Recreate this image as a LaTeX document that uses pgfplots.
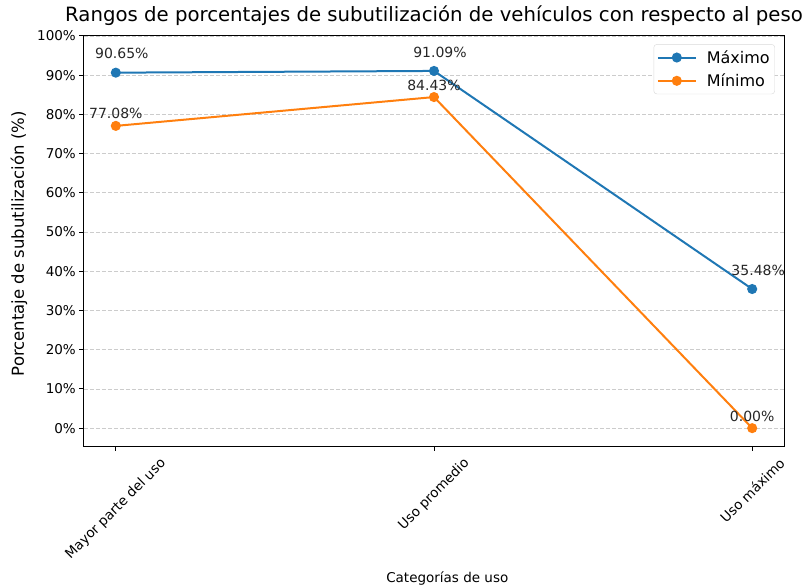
\documentclass[border=0pt]{standalone}
\usepackage{pgfplots}
\pgfplotsset{compat=1.18}
\usepackage{graphicx}
\usepackage{fontspec}
\setmainfont{DejaVu Sans}
\definecolor{tabblue}{HTML}{1F77B4}
\definecolor{taborange}{HTML}{FF7F0E}
\newcommand{\fs}[1]{\fontsize{#1bp}{#1bp}\selectfont}
\begin{document}
\begin{tikzpicture}
  \begin{axis}[
      scale only axis,
      width=700bp, height=410bp,
      xmin=-0.1, xmax=2.1,
      ymin=-4.55, ymax=100,
      xtick={0,1,2},
      xticklabels={\rotatebox{45}{Mayor parte del uso}, \rotatebox{45}{Uso promedio}, \rotatebox{45}{Uso máximo}},
      xticklabel style={anchor=north, inner sep=0pt, yshift=-6bp},
      ytick={0,10,...,100},
      yticklabel={\pgfmathprintnumber{\tick}\%},
      /pgf/number format/assume math mode=true,
      tick label style={font=\fs{13.5}},
      tick align=outside, tick pos=left,
      major tick length=4.7bp,
      axis line style={line width=1bp},
      every tick/.style={black, line width=1bp},
      ymajorgrids,
      grid style={gray!40, line width=0.8bp, dash pattern=on 4bp off 2bp},
      title={Rangos de porcentajes de subutilización de vehículos con respecto al peso},
      title style={at={(axis description cs:0.5,1)}, anchor=base, font=\fs{19.7}, inner sep=0pt, yshift=9bp},
      xlabel={Categorías de uso},
      xlabel style={at={(axis description cs:0.519,-0.322)}, anchor=center, font=\fs{13.5}},
      ylabel={Porcentaje de subutilización (\%)},
      ylabel style={at={(axis description cs:-0.093,0.493)}, anchor=center, font=\fs{16.5}},
      legend style={at={(rel axis cs:0.987,0.98)}, anchor=north east, font=\fs{16},
        draw=gray!30, rounded corners=3bp, inner xsep=3bp, inner ysep=4bp, row sep=5bp,
        /tikz/every odd column/.append style={column sep=8bp}},
      legend cell align=left,
      legend image code/.code={\draw[mark repeat=2, mark phase=2] plot coordinates {(0bp,0bp) (19bp,0bp) (38bp,0bp)};},
      point meta=explicit symbolic,
      nodes near coords,
      every node near coord/.append style={font=\fs{14}, anchor=center, text=black!85},
    ]
    \addplot[tabblue, line width=2bp, mark=*, mark size=4bp, mark options={solid},
      every node near coord/.append style={yshift=19bp, xshift=6bp}] coordinates {
      (0, 90.65) [90.65\%]
      (1, 91.09) [91.09\%]
      (2, 35.48) [35.48\%]
    };
    \addlegendentry{Máximo}
    \addplot[taborange, line width=2bp, mark=*, mark size=4bp, mark options={solid},
      every node near coord/.append style={yshift=12bp}] coordinates {
      (0, 77.08) [77.08\%]
      (1, 84.43) [84.43\%]
      (2, 0.00) [0.00\%]
    };
    \addlegendentry{Mínimo}
    \coordinate (sw) at (rel axis cs:0,0);
    \coordinate (ne) at (rel axis cs:1,1);
  \end{axis}
  \pgfresetboundingbox
  \path[use as bounding box] ([shift={(-84bp,-142bp)}]sw) rectangle ([shift={(19bp,36bp)}]ne);
\end{tikzpicture}
\end{document}
